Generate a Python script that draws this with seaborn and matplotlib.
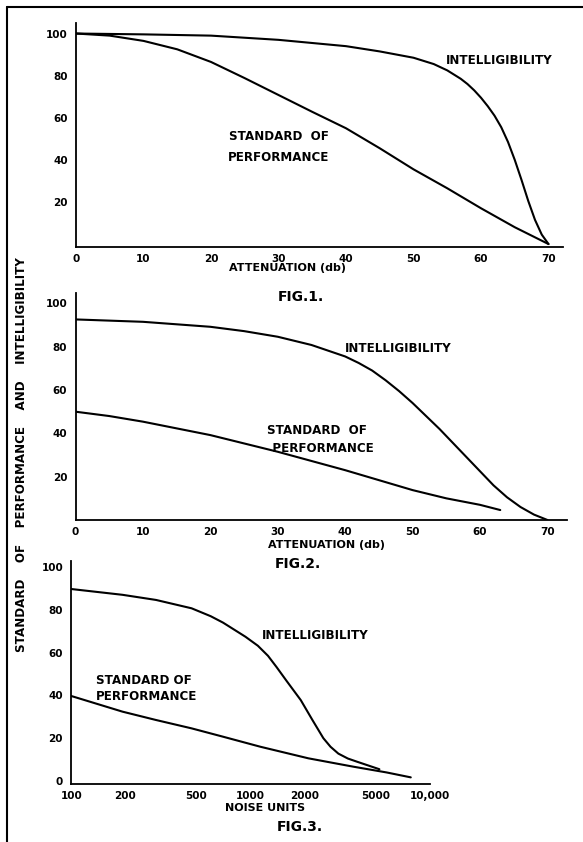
import numpy as np
import pandas as pd
import seaborn as sns
import matplotlib.pyplot as plt
from matplotlib.lines import Line2D

# Fig. 1 - attenuation (db)
f1_intel_x = [0, 10, 20, 30, 40, 45, 50, 53, 55, 57, 58, 59, 60, 61, 62, 63, 64, 65, 66, 67, 68, 69, 70]
f1_intel_y = [100, 99.6, 99, 97, 94, 91.5, 88.5, 85.5, 82.5, 78.5, 76, 73, 69.5, 65.5, 61, 55.5,
              48.5, 40, 30.5, 20.5, 11.5, 4.5, 0]
f1_std_x = [0, 5, 10, 15, 20, 25, 30, 35, 40, 45, 50, 55, 60, 65, 70]
f1_std_y = [100, 99, 96.5, 92.5, 86.5, 78.8, 70.8, 62.8, 55, 45.5, 35.5, 26.5, 17, 8, 0]

# Fig. 2 - attenuation (db)
f2_intel_x = [0, 10, 20, 25, 30, 35, 40, 42, 44, 46, 48, 50, 52, 54, 56, 58, 60, 62, 64, 66, 68, 70]
f2_intel_y = [92.6, 91.5, 89.2, 87.2, 84.6, 80.8, 75.5, 72.5, 69, 64.5, 59.5, 54, 48, 42, 35.5,
              29, 22.5, 16, 10.5, 6, 2.5, 0]
f2_std_x = [0, 5, 10, 20, 30, 40, 50, 55, 60, 63]
f2_std_y = [50, 48, 45.4, 39.2, 31.5, 23, 13.8, 10, 7, 4.6]

# Fig. 3 - noise units
f3_intel_x = [100, 193, 297, 469, 600, 703, 938, 1100, 1253, 1400, 1584, 1910, 2219, 2554, 2800,
              3097, 3500, 3943, 5250]
f3_intel_y = [89.7, 87, 84.6, 80.7, 77, 74, 67.4, 63.2, 58.5, 53.2, 47, 37.8, 28.5, 20, 16, 12.8,
              10.5, 9, 5.5]
f3_std_x = [100, 193, 297, 469, 703, 1137, 2106, 3750, 5760, 7860]
f3_std_y = [39.7, 32.4, 28.5, 24.6, 20.7, 16, 10.6, 6.7, 4, 1.7]

att_ticks = [0, 10, 20, 30, 40, 50, 60, 70]
noise_ticks = [100, 200, 500, 1000, 2000, 5000, 10000]
noise_labels = ['100', '200', '500', '1000', '2000', '5000', '10,000']

sns.set_style("white")
plt.rcParams['font.family'] = ['DejaVu Sans']
for k in ['text.color', 'axes.labelcolor', 'xtick.color', 'ytick.color']:
    plt.rcParams[k] = 'black'

W, H = 583, 842
fig = plt.figure(figsize=(W / 100, H / 100), dpi=100)


def rect(x0, x1, y_top, y_bot):
    return [x0 / W, (H - y_bot) / H, (x1 - x0) / W, (y_bot - y_top) / H]


def style(ax):
    sns.despine(ax=ax)
    for s in ['left', 'bottom']:
        ax.spines[s].set_color('black')
        ax.spines[s].set_linewidth(1.3)
    ax.tick_params(axis='y', length=3, width=0.8, color='black', pad=3, labelsize=7.5)
    ax.tick_params(axis='x', length=0, pad=5, labelsize=7.5)
    for lab in ax.get_xticklabels() + ax.get_yticklabels():
        lab.set_fontweight('bold')
    ax.set_ylabel('')
    ax.set_xlabel('')
    ax.set_facecolor('none')


lbl = dict(fontsize=8.6, fontweight='bold', color='black')
xl = dict(fontsize=8, fontweight='bold', color='black', ha='center', va='center')
line_kw = dict(color='black', linewidth=1.5, sort=False, estimator=None)

# ---- Fig. 1
ax1 = fig.add_axes(rect(76, 563, 23, 247))
sns.lineplot(x=f1_intel_x, y=f1_intel_y, ax=ax1, **line_kw)
sns.lineplot(x=f1_std_x, y=f1_std_y, ax=ax1, **line_kw)
ax1.set_xlim(0, 72.15)
ax1.set_ylim(-1.4, 105)
ax1.set_xticks(att_ticks)
ax1.set_yticks([20, 40, 60, 80, 100])
style(ax1)
ax1.annotate('ATTENUATION (db)', xy=(31.3, 0), xycoords=('data', 'axes fraction'),
             xytext=(0, -21), textcoords='offset pixels', **xl)
ax1.text(54.8, 87, 'INTELLIGIBILITY', ha='left', va='center', **lbl)
ax1.text(30, 46, 'STANDARD  OF\nPERFORMANCE', ha='center', va='center',
         linespacing=1.8, **lbl)

# ---- Fig. 2
ax2 = fig.add_axes(rect(75.5, 567, 293, 520))
sns.lineplot(x=f2_intel_x, y=f2_intel_y, ax=ax2, **line_kw)
sns.lineplot(x=f2_std_x, y=f2_std_y, ax=ax2, **line_kw)
ax2.set_xlim(0, 72.9)
ax2.set_ylim(0, 104.8)
ax2.set_xticks(att_ticks)
ax2.set_yticks([20, 40, 60, 80, 100])
style(ax2)
ax2.annotate('ATTENUATION (db)', xy=(37.2, 0), xycoords=('data', 'axes fraction'),
             xytext=(0, -25), textcoords='offset pixels', **xl)
ax2.text(40, 79, 'INTELLIGIBILITY', ha='left', va='center', **lbl)
ax2.text(35.8, 37, 'STANDARD  OF\n   PERFORMANCE', ha='center', va='center',
         linespacing=1.5, **lbl)

# ---- Fig. 3
ax3 = fig.add_axes(rect(71.4, 429.5, 561, 784))
sns.lineplot(x=f3_intel_x, y=f3_intel_y, ax=ax3, **line_kw)
sns.lineplot(x=f3_std_x, y=f3_std_y, ax=ax3, **line_kw)
ax3.set_xscale('log')
ax3.set_xlim(100, 10000)
ax3.set_ylim(-1.4, 102.8)
ax3.set_xticks(noise_ticks)
ax3.set_xticklabels(noise_labels)
ax3.minorticks_off()
ax3.set_yticks([0, 20, 40, 60, 80, 100])
style(ax3)
ax3.annotate('NOISE UNITS', xy=(1205, 0), xycoords=('data', 'axes fraction'),
             xytext=(0, -24), textcoords='offset pixels', **xl)
ax3.text(1160, 68, 'INTELLIGIBILITY', ha='left', va='center', **lbl)
ax3.text(137, 43, 'STANDARD OF\nPERFORMANCE', ha='left', va='center',
         linespacing=1.3, **lbl)

# figure captions
cap = dict(fontsize=10, fontweight='bold', color='black', ha='center', va='center')
fig.text(301 / W, 1 - 297 / H, 'FIG.1.', **cap)
fig.text(298 / W, 1 - 564 / H, 'FIG.2.', **cap)
fig.text(300 / W, 1 - 827 / H, 'FIG.3.', **cap)

# shared y label
fig.text(22 / W, 1 - 455 / H,
         'STANDARD    OF    PERFORMANCE    AND    INTELLIGIBILITY',
         rotation=90, ha='center', va='center', fontsize=8.6, fontweight='bold')

# page frame (left and top edges)
fig.add_artist(Line2D([7 / W, 7 / W], [0, 1 - 7 / H], color='black', linewidth=1.5,
                      transform=fig.transFigure))
fig.add_artist(Line2D([7 / W, 1], [1 - 7 / H, 1 - 7 / H], color='black', linewidth=1.5,
                      transform=fig.transFigure))

fig.savefig('out.png', dpi=100)
